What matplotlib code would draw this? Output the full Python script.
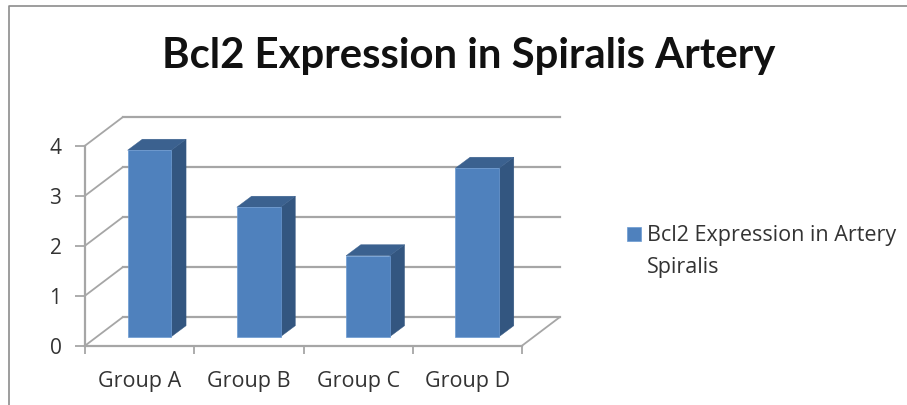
import matplotlib
matplotlib.use('Agg')
import matplotlib.pyplot as plt
from matplotlib.lines import Line2D
from matplotlib.patches import Polygon

categories = ['Group A', 'Group B', 'Group C', 'Group D']
values = [3.73, 2.59, 1.62, 3.37]
y_ticks = [0, 1, 2, 3, 4]
series_name = 'Bcl2 Expression in Artery\nSpiralis'
title = 'Bcl2 Expression in Spiralis Artery'

GRID = '#a6a6a6'
FRONT = '#4f81bd'
SIDE = '#335680'
TOP = '#3b618f'

# depth of the fake 3D box, in data units
wall_dx, wall_dy = 0.345, 0.57
bar_dx, bar_dy = 0.09, 0.18
side_dx, side_dy = 0.135, 0.22
bar_w = 0.4

W, H = 907, 405
fig = plt.figure(figsize=(W / 100, H / 100), dpi=100)
ax = fig.add_axes([85 / W, (H - 345.7) / H, 437 / W, 200 / H])
n = len(categories)
ax.set_xlim(0, n)
ax.set_ylim(0, 4)

# walls and floor
for v in y_ticks:
    ax.plot([0, wall_dx], [v, v + wall_dy], color=GRID, lw=1.3, clip_on=False, zorder=1)
    ax.plot([wall_dx, n + wall_dx], [v + wall_dy, v + wall_dy], color=GRID, lw=1.6, clip_on=False, zorder=1)
ax.plot([n, n + wall_dx], [0, wall_dy], color=GRID, lw=1.3, clip_on=False, zorder=1)

# bars: front face, then side and top
xs = [i + 0.5 + bar_dx for i in range(n)]
ax.bar(xs, values, width=bar_w, bottom=bar_dy, color=FRONT, edgecolor='#6b9ad2', lw=0.5,
       clip_on=False, zorder=3, label=series_name)
for x, v in zip(xs, values):
    l, r = x - bar_w / 2, x + bar_w / 2
    t = bar_dy + v
    ax.add_patch(Polygon([(r, bar_dy), (r + side_dx, bar_dy + side_dy), (r + side_dx, t + side_dy), (r, t)],
                         facecolor=SIDE, edgecolor=SIDE, lw=0.3, clip_on=False, zorder=2))
    ax.add_patch(Polygon([(l, t), (l + side_dx, t + side_dy), (r + side_dx, t + side_dy), (r, t)],
                         facecolor=TOP, edgecolor=TOP, lw=0.3, clip_on=False, zorder=2))

for s in ['top', 'right']:
    ax.spines[s].set_visible(False)
for s in ['left', 'bottom']:
    ax.spines[s].set_color(GRID)
    ax.spines[s].set_linewidth(1.6)

ax.set_yticks(y_ticks)
ax.set_xticks(range(n + 1))
ax.set_xticklabels([])
ax.set_xticks([i + 0.5 for i in range(n)], categories, minor=True)
ax.tick_params(axis='x', which='major', length=6, width=1.3, color=GRID)
ax.tick_params(axis='x', which='minor', length=0, pad=18.5, labelsize=15.5, labelcolor='#333333')
ax.tick_params(axis='y', length=7, width=1.3, color=GRID, pad=10, labelsize=15, labelcolor='#333333')
for lab in ax.get_xticklabels(minor=True) + ax.get_yticklabels():
    lab.set_fontfamily('Open Sans')

leg = fig.legend(loc='upper left', bbox_to_anchor=(627 / W, 1 - 224.5 / H), frameon=False,
                 prop={'family': 'Open Sans', 'size': 15.5}, labelcolor='#333333',
                 handlelength=0.65, handleheight=0.65, handletextpad=0.28,
                 borderpad=0, borderaxespad=0, labelspacing=0)
leg.get_texts()[0].set_linespacing(1.75)
# the swatch sits beside the first line of the label
swatch = leg.legend_handles[0]
swatch.set_y(swatch.get_y() + 13)

fig.text(468.5 / W, 1 - 56 / H, title, ha='center', va='center', fontsize=30.2,
         fontfamily='Lato', fontweight='bold', color='#111111')

# outer chart border, only left and top show
fig.add_artist(Line2D([8.5 / W, 8.5 / W, 1], [0, 1 - 6 / H, 1 - 6 / H], color='#8c8c8c', lw=1.2))

fig.savefig('out.png', dpi=100)
